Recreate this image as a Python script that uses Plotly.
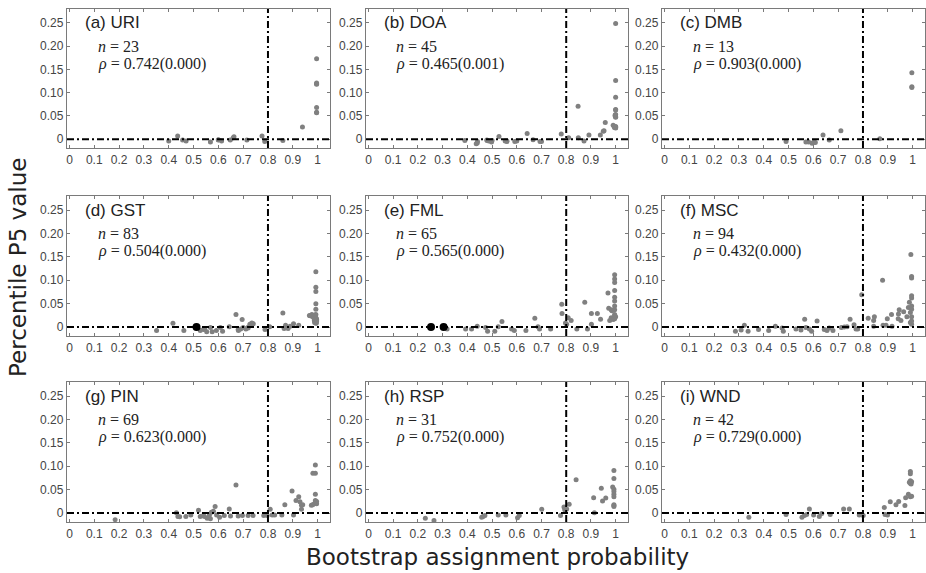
import plotly.graph_objects as go

# ---------------- data ----------------
panel_labels = ["(a) URI", "(b) DOA", "(c) DMB", "(d) GST", "(e) FML", "(f) MSC", "(g) PIN", "(h) RSP", "(i) WND"]
n_values = [23, 45, 13, 83, 65, 94, 69, 31, 42]
rho_values = ["0.742(0.000)", "0.465(0.001)", "0.903(0.000)", "0.504(0.000)", "0.565(0.000)",
              "0.432(0.000)", "0.623(0.000)", "0.752(0.000)", "0.729(0.000)"]

URI_x = [0.40, 0.436, 0.456, 0.47, 0.568, 0.60, 0.613, 0.648, 0.663, 0.715, 0.776, 0.787, 0.86, 0.939,
         0.996, 0.996, 0.996, 0.996, 0.996, 0.996, 0.996, 0.60, 0.66]
URI_y = [-0.004, 0.007, -0.002, -0.004, -0.006, -0.001, -0.004, -0.002, 0.005, -0.002, 0.007, -0.005, -0.003, 0.026,
         0.173, 0.121, 0.119, 0.068, 0.057, 0.118, 0.058, -0.002, 0.003]

DOA_x = [0.39, 0.436, 0.441, 0.479, 0.487, 0.498, 0.528, 0.553, 0.56, 0.592, 0.642, 0.666, 0.694, 0.78, 0.81,
         0.849, 0.848, 0.872, 0.892, 0.938, 0.953, 0.958, 1.0, 1.0, 1.0, 1.0, 1.0, 1.0, 1.0, 1.0,
         0.995, 1.0, 0.998, 0.5, 0.44, 0.56, 0.99, 1.0, 1.0, 0.998, 0.6, 0.95, 0.48, 0.7, 1.0]
DOA_y = [-0.003, -0.010, -0.005, -0.002, -0.004, -0.006, 0.006, -0.004, -0.005, -0.005, 0.012, -0.001, -0.005, 0.011, 0.003,
         0.003, 0.071, -0.004, 0.009, 0.009, 0.018, 0.036, 0.249, 0.126, 0.09, 0.064, 0.053, 0.047, 0.027, 0.024,
         0.025, 0.026, 0.05, -0.003, -0.008, -0.004, 0.03, 0.025, 0.048, 0.052, -0.004, 0.017, -0.003, -0.005, 0.063]

DMB_x = [0.49, 0.57, 0.581, 0.595, 0.608, 0.639, 0.664, 0.711, 0.868, 0.997, 0.997, 0.997, 0.60]
DMB_y = [-0.005, -0.006, -0.006, -0.009, -0.007, 0.009, -0.002, 0.018, 0.001, 0.143, 0.113, 0.111, -0.007]

GST_x = [0.351, 0.417, 0.461, 0.527, 0.54, 0.553, 0.568, 0.575, 0.592, 0.608, 0.617, 0.644, 0.671, 0.681, 0.69,
         0.696, 0.70, 0.711, 0.719, 0.727, 0.735, 0.741, 0.788, 0.807, 0.86, 0.865, 0.871, 0.881, 0.889, 0.903,
         0.924, 0.967, 0.977, 0.987, 0.993, 0.993, 0.993, 0.993, 0.993, 0.993, 0.993, 0.993, 0.993, 0.993,
         0.987, 0.988, 0.98, 0.99, 0.995, 0.996, 0.995, 0.99, 0.72, 0.73, 0.545, 0.68, 0.97, 0.996]
GST_y = [-0.007, 0.008, -0.007, -0.007, -0.005, -0.010, -0.001, -0.010, -0.007, -0.001, -0.009, 0.001, 0.027, -0.007, -0.004,
         0.016, -0.001, -0.004, -0.001, 0.006, 0.009, 0.007, -0.005, 0.001, 0.030, -0.003, 0.004, -0.003, 0.002, 0.007,
         0.004, 0.025, 0.027, 0.017, 0.118, 0.085, 0.076, 0.050, 0.038, 0.027, 0.020, 0.015, 0.011, 0.008,
         0.014, 0.010, 0.022, 0.024, 0.018, 0.013, 0.009, 0.026, -0.002, 0.004, -0.004, -0.005, 0.024, 0.016]
GST_hx = [0.512]
GST_hy = [0.0]

FML_x = [0.318, 0.393, 0.417, 0.44, 0.474, 0.482, 0.511, 0.525, 0.54, 0.579, 0.59, 0.637, 0.673, 0.686, 0.692,
         0.737, 0.782, 0.783, 0.797, 0.802, 0.808, 0.82, 0.843, 0.875, 0.886, 0.902, 0.902, 0.926, 0.939, 0.969,
         0.972, 0.976, 0.982, 0.982, 0.996, 0.996, 0.996, 0.996, 0.996, 0.996, 0.996, 0.996, 0.996, 0.996,
         0.996, 1.0, 0.99, 0.985]
FML_y = [-0.004, -0.004, -0.004, 0.002, -0.001, -0.009, -0.009, 0.001, 0.012, -0.004, -0.007, -0.007, 0.019, 0.001, -0.004,
         -0.004, 0.049, 0.029, 0.009, 0.006, 0.020, 0.014, -0.004, 0.053, -0.004, 0.006, 0.029, 0.029, 0.017, 0.073,
         0.040, 0.014, 0.037, 0.020, 0.112, 0.103, 0.095, 0.078, 0.064, 0.056, 0.045, 0.037, 0.027, 0.024,
         0.018, 0.022, 0.016, 0.035]
FML_hx = [0.253, 0.304]
FML_hy = [0.0, 0.0]

MSC_x = [0.286, 0.309, 0.322, 0.337, 0.379, 0.42, 0.447, 0.474, 0.479, 0.53, 0.55, 0.565, 0.57, 0.584, 0.593,
         0.615, 0.644, 0.655, 0.664, 0.679, 0.713, 0.725, 0.736, 0.748, 0.764, 0.772, 0.779, 0.795, 0.821, 0.846,
         0.843, 0.843, 0.879, 0.881, 0.893, 0.898, 0.915, 0.917, 0.942, 0.943, 0.946, 0.953, 0.964, 0.977, 0.983,
         0.987, 0.991, 0.993, 0.996, 0.996, 0.996, 0.996, 0.996, 0.996, 0.996, 0.996, 0.996, 0.991]
MSC_y = [-0.009, -0.006, 0.004, -0.009, -0.005, -0.007, 0.002, -0.002, -0.009, -0.004, -0.006, 0.017, -0.001, -0.004, -0.009,
         0.013, -0.005, -0.007, -0.002, -0.007, -0.001, 0.0, 0.001, 0.017, 0.005, -0.004, -0.004, 0.069, 0.019, 0.022,
         0.014, 0.002, 0.100, 0.004, 0.004, 0.018, 0.027, 0.002, 0.018, 0.028, 0.037, 0.014, 0.033, 0.022, 0.042,
         0.053, 0.031, 0.155, 0.108, 0.105, 0.067, 0.062, 0.045, 0.038, 0.022, 0.013, 0.006, 0.010]

PIN_x = [0.184, 0.431, 0.437, 0.444, 0.469, 0.489, 0.52, 0.527, 0.54, 0.544, 0.555, 0.564, 0.568, 0.572, 0.58,
         0.587, 0.593, 0.605, 0.624, 0.644, 0.649, 0.671, 0.68, 0.697, 0.72, 0.74, 0.783, 0.797, 0.809, 0.817,
         0.827, 0.856, 0.868, 0.897, 0.903, 0.913, 0.924, 0.929, 0.935, 0.935, 0.94, 0.975, 0.981, 0.991, 0.991,
         0.991, 0.991, 0.991, 0.996, 0.996, 0.987, 0.98]
PIN_y = [-0.014, 0.001, -0.007, -0.008, -0.007, -0.004, 0.006, -0.007, -0.005, -0.007, -0.011, -0.004, -0.012, 0.002, 0.004,
         0.014, -0.004, -0.009, -0.005, 0.009, -0.006, 0.060, -0.006, -0.005, -0.005, -0.005, -0.005, -0.005, 0.008, -0.004,
         -0.004, -0.004, 0.018, 0.047, -0.004, 0.027, 0.035, 0.024, 0.017, 0.008, 0.018, 0.017, 0.085, 0.103, 0.085,
         0.040, 0.022, 0.027, 0.025, 0.020, 0.020, 0.018]

RSP_x = [0.23, 0.265, 0.458, 0.464, 0.471, 0.525, 0.556, 0.603, 0.61, 0.701, 0.777, 0.791, 0.794, 0.802, 0.812,
         0.84, 0.911, 0.914, 0.942, 0.947, 0.96, 0.988, 0.993, 0.993, 0.993, 0.993, 0.993, 0.993, 0.993, 0.993, 0.993]
RSP_y = [-0.011, -0.016, -0.009, -0.007, -0.005, -0.004, -0.004, -0.010, -0.005, 0.008, -0.005, 0.013, 0.007, 0.009, 0.019,
         0.071, 0.033, 0.001, 0.053, 0.026, 0.032, 0.056, 0.091, 0.074, 0.051, 0.046, 0.040, 0.035, 0.018, 0.014, 0.016]

WND_x = [0.34, 0.49, 0.554, 0.564, 0.573, 0.584, 0.601, 0.624, 0.634, 0.668, 0.722, 0.745, 0.785, 0.801, 0.886,
         0.889, 0.899, 0.91, 0.933, 0.944, 0.969, 0.972, 0.983, 0.991, 0.996, 0.991, 0.991, 0.991, 0.991, 0.996,
         0.987, 0.994]
WND_y = [-0.009, -0.003, -0.009, -0.005, -0.003, 0.009, -0.004, -0.007, -0.001, -0.003, 0.009, 0.009, -0.004, -0.005, 0.012,
         -0.003, -0.004, 0.024, 0.018, 0.025, 0.016, 0.033, 0.040, 0.035, 0.036, 0.089, 0.084, 0.069, 0.064, 0.067,
         0.066, 0.062]

series_x = [URI_x, DOA_x, DMB_x, GST_x, FML_x, MSC_x, PIN_x, RSP_x, WND_x]
series_y = [URI_y, DOA_y, DMB_y, GST_y, FML_y, MSC_y, PIN_y, RSP_y, WND_y]
highlight = {3: (GST_hx, GST_hy), 4: (FML_hx, FML_hy)}

x_tickvals = [0, 0.1, 0.2, 0.3, 0.4, 0.5, 0.6, 0.7, 0.8, 0.9, 1.0]
x_ticktext = ["0", "0.1", "0.2", "0.3", "0.4", "0.5", "0.6", "0.7", "0.8", "0.9", "1"]
y_tickvals = [0, 0.05, 0.10, 0.15, 0.20, 0.25]
y_ticktext = ["0", "0.05", "0.10", "0.15", "0.20", "0.25"]
threshold_x = 0.8
baseline_y = 0.0

# ---------------- layout ----------------
W, H = 926, 573
col_px = [(67, 330), (366, 628), (662, 925)]
row_px = [(9, 148), (196, 336), (382, 522)]

fig = go.Figure()
layout = dict(width=W, height=H, margin=dict(l=0, r=0, t=0, b=0),
              paper_bgcolor="white", plot_bgcolor="white", showlegend=False)
annotations = []
shapes = []
tick_font = dict(family="Liberation Sans, Arial, sans-serif", size=12, color="#444444")
frame_col = "#7a7a7a"
serif = "Liberation Serif, DejaVu Serif, serif"

for i in range(9):
    r, c = divmod(i, 3)
    sfx = "" if i == 0 else str(i + 1)
    xref, yref = "x" + sfx, "y" + sfx
    x0p, x1p = col_px[c]
    y0p, y1p = row_px[r]
    layout["xaxis" + sfx] = dict(
        domain=[x0p / W, x1p / W], anchor=yref, range=[-0.01, 1.05],
        tickvals=x_tickvals, ticktext=x_ticktext, ticks="inside", ticklen=3, tickcolor=frame_col,
        showline=True, linecolor=frame_col, linewidth=1.3, mirror="ticks", showgrid=False, zeroline=False,
        tickfont=tick_font)
    layout["yaxis" + sfx] = dict(
        domain=[1 - y1p / H, 1 - y0p / H], anchor=xref, range=[-0.019, 0.28],
        tickvals=y_tickvals, ticktext=y_ticktext, ticks="inside", ticklen=3, tickcolor=frame_col,
        showline=True, linecolor=frame_col, linewidth=1.3, mirror="ticks", showgrid=False, zeroline=False,
        tickfont=tick_font)

    fig.add_trace(go.Scatter(x=series_x[i], y=series_y[i], mode="markers", xaxis=xref, yaxis=yref,
                             marker=dict(size=5, color="#808080", line=dict(width=0)), hoverinfo="x+y"))
    if i in highlight:
        hx, hy = highlight[i]
        fig.add_trace(go.Scatter(x=hx, y=hy, mode="markers", xaxis=xref, yaxis=yref,
                                 marker=dict(size=8, color="black", line=dict(width=0))))

    shapes.append(dict(type="line", xref=xref, yref=yref + " domain", x0=threshold_x, x1=threshold_x, y0=0, y1=1,
                       line=dict(color="black", width=2, dash="7px,3px,2px,3px")))
    shapes.append(dict(type="line", xref=xref + " domain", yref=yref, x0=0, x1=1, y0=baseline_y, y1=baseline_y,
                       line=dict(color="black", width=2, dash="7px,3px,2px,3px")))

    annotations.append(dict(xref=xref, yref=yref, x=0.055, y=0.25, text=panel_labels[i], showarrow=False,
                            xanchor="left", yanchor="middle",
                            font=dict(family="Liberation Sans, Arial, sans-serif", size=17, color="#222222")))
    annotations.append(dict(xref=xref, yref=yref, x=0.105, y=0.199, text="<i>n</i> = %d" % n_values[i],
                            showarrow=False, xanchor="left", yanchor="middle",
                            font=dict(family=serif, size=16, color="#222222")))
    annotations.append(dict(xref=xref, yref=yref, x=0.105, y=0.162, text="<i>ρ</i> = " + rho_values[i],
                            showarrow=False, xanchor="left", yanchor="middle",
                            font=dict(family=serif, size=16, color="#222222")))

annotations.append(dict(xref="paper", yref="paper", x=497 / W, y=1 - 557 / H, text="Bootstrap assignment probability",
                        showarrow=False, xanchor="center", yanchor="middle",
                        font=dict(family="DejaVu Sans, sans-serif", size=23, color="#222222")))
annotations.append(dict(xref="paper", yref="paper", x=18 / W, y=1 - 268 / H, text="Percentile P5 value",
                        showarrow=False, xanchor="center", yanchor="middle", textangle=-90,
                        font=dict(family="DejaVu Sans, sans-serif", size=23, color="#222222")))

layout["annotations"] = annotations
layout["shapes"] = shapes
fig.update_layout(**layout)
fig.write_html("out.html", config={"displayModeBar": False},
               post_script="document.body.style.margin='0';document.body.style.overflow='hidden';")
